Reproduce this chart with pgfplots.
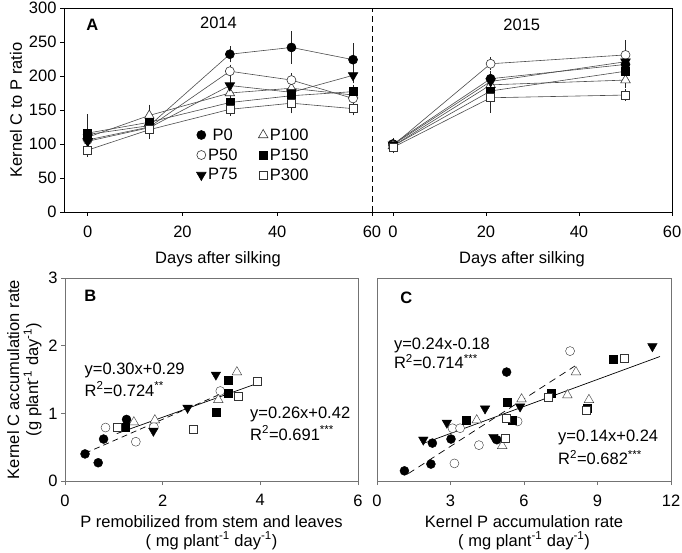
\documentclass[border=0pt]{standalone}
\usepackage{fontspec}
\setmainfont{Liberation Sans}
\usepackage{pgfplots}
\pgfplotsset{compat=1.18}

\tikzset{txt/.style={font=\fontsize{16.5}{16.5}\selectfont}}
\pgfplotsset{
  base/.style={
    scale only axis, anchor=south west,
    tick align=outside, major tick length=4pt,
    xtick pos=left, ytick pos=left,
    tick style={black, line width=0.6pt},
    axis line style={line width=0.8pt},
    tick label style={font=\fontsize{16.5}{16.5}\selectfont},
    xticklabel style={yshift=-6pt},
    label style={font=\fontsize{16.5}{19}\selectfont},
    /pgf/number format/assume math mode=true,
    clip=false,
  },
  ln/.style={draw=black!70, line width=0.6pt,
    error bars/y dir=both, error bars/y explicit,
    error bars/error bar style={draw=black!85, line width=0.5pt, solid},
    error bars/error mark options={draw=black!85, mark size=4pt, line width=0.5pt}},
  m0/.style={mark=*, mark size=4.5pt, mark options={solid, draw=black, fill=black}},
  m50/.style={mark=*, mark size=4.5pt, mark options={solid, draw=black!80, fill=white}},
  m75/.style={mark=triangle*, mark size=5.5pt, mark options={solid, draw=black, fill=black, rotate=180}},
  m100/.style={mark=triangle*, mark size=5.5pt, mark options={solid, draw=black!80, fill=white}},
  m150/.style={mark=square*, mark size=4pt, mark options={solid, draw=black, fill=black}},
  m300/.style={mark=square*, mark size=4pt, mark options={solid, draw=black!80, fill=white}},
}

\begin{document}
\begin{tikzpicture}[x=1pt,y=1pt]
\useasboundingbox (0,0) rectangle (682,552);

% ---- A, 2014
\begin{axis}[base, at={(64pt,340pt)}, width=308pt, height=204pt,
  xmin=-5, xmax=60, ymin=0, ymax=300,
  xtick={0,20,40,60}, ytick={0,50,...,300},
  axis line style={draw=none},
  xlabel={Days after silking}, ylabel={Kernel C to P ratio},
  xlabel style={yshift=-7pt},
  legend columns=2,
  legend style={draw=none, fill=none, at={(0.42,0.43)}, anchor=north west,
    font=\fontsize{16.5}{16.5}\selectfont, row sep=3pt,
    /tikz/every even column/.append style={column sep=19pt}},
  legend image code/.code={\draw[#1, only marks] plot coordinates {(0.25cm,0cm)};},
]
\draw[line width=0.8pt] (rel axis cs:1,0) -- (rel axis cs:0,0) -- (rel axis cs:0,1) -- (rel axis cs:1,1);
\draw[dash pattern=on 6pt off 4pt, line width=0.8pt] (rel axis cs:1,0) -- (rel axis cs:1,1);
\addplot[ln, m0] coordinates {(0,114) +- (0,24) (13,127) +- (0,4) (30,232) +- (0,6) (43,242) +- (0,18) (56,224) +- (0,18)};
\addlegendentry{P0}
\addplot[ln, m100] coordinates {(0,110) +- (0,4) (13,142) +- (0,10) (30,175) +- (0,6) (43,182) +- (0,6) (56,172) +- (0,6)};
\addlegendentry{P100}
\addplot[ln, m50] coordinates {(0,106) +- (0,4) (13,125) +- (0,4) (30,207) +- (0,4) (43,194) +- (0,4) (56,167) +- (0,6)};
\addlegendentry{P50}
\addplot[ln, m150] coordinates {(0,116) +- (0,4) (13,132) +- (0,4) (30,161) +- (0,4) (43,171) +- (0,4) (56,177) +- (0,4)};
\addlegendentry{P150}
\addplot[ln, m75] coordinates {(0,104) +- (0,4) (13,124) +- (0,4) (30,186) +- (0,10) (43,176) +- (0,4) (56,201) +- (0,6)};
\addlegendentry{P75}
\addplot[ln, m300] coordinates {(0,91) +- (0,4) (13,121) +- (0,8) (30,151) +- (0,4) (43,160) +- (0,9) (56,152) +- (0,4)};
\addlegendentry{P300}
\node[font=\bfseries\fontsize{16.5}{16.5}\selectfont] at (axis cs:1,275) {A};
\node[txt] at (axis cs:27.6,278) {2014};
\end{axis}

% ---- A, 2015
\begin{axis}[base, at={(372pt,340pt)}, width=300pt, height=204pt,
  xmin=-4.5, xmax=60, ymin=0, ymax=300,
  xtick={0,20,40,60}, ytick=\empty,
  axis line style={draw=none},
  xlabel={Days after silking},
  xlabel style={yshift=-7pt},
]
\draw[line width=0.8pt] (rel axis cs:0,0) -- (rel axis cs:1,0) -- (rel axis cs:1,1) -- (rel axis cs:0,1);
\addplot[ln, m0] coordinates {(0,100) +- (0,3) (21,196) +- (0,5) (50,217) +- (0,6)};
\addplot[ln, m100] coordinates {(0,97) +- (0,3) (21,187) +- (0,6) (50,194) +- (0,6)};
\addplot[ln, m50] coordinates {(0,98) +- (0,3) (21,218) +- (0,4) (50,231) +- (0,16)};
\addplot[ln, m150] coordinates {(0,97) +- (0,3) (21,178) +- (0,5) (50,207) +- (0,6)};
\addplot[ln, m75] coordinates {(0,99) +- (0,3) (21,192) +- (0,5) (50,221) +- (0,5)};
\addplot[ln, m300] coordinates {(0,95) +- (0,3) (21,168) +- (0,16) (50,172) +- (0,3)};
\node[txt] at (axis cs:27.7,275) {2015};
\end{axis}

% ---- B
\begin{axis}[base, at={(65pt,71pt)}, width=293pt, height=203pt,
  xmin=0, xmax=6, ymin=0, ymax=3,
  xtick={0,2,4,6}, ytick={0,1,2,3},
  axis line style={black!55}, tick style={black!55},
  xlabel={P remobilized from stem and leaves\\( mg plant\textsuperscript{-1} day\textsuperscript{-1})},
  ylabel={Kernel C accumulation rate\\(g plant\textsuperscript{-1} day\textsuperscript{-1})},
  xlabel style={align=center, yshift=-2pt}, ylabel style={align=center},
]
\addplot[black, line width=0.7pt, dash pattern=on 6pt off 4pt] coordinates {(0.41,0.41) (3.2,1.29)};
\addplot[black, line width=0.7pt] coordinates {(1.06,0.70) (3.93,1.44)};
\addplot[only marks, m0] coordinates {(0.41,0.40) (0.68,0.27) (0.79,0.62) (1.26,0.91)};
\addplot[only marks, m50] coordinates {(0.83,0.79) (1.45,0.58) (1.82,0.80) (3.18,1.33)};
\addplot[only marks, m100] coordinates {(1.41,0.87) (1.84,0.90) (3.14,1.20) (3.52,1.61)};
\addplot[only marks, m75] coordinates {(1.81,0.74) (2.51,1.08) (3.09,1.57)};
\addplot[only marks, m150] coordinates {(1.23,0.80) (3.09,1.02) (3.35,1.49) (3.35,1.30)};
\addplot[only marks, m300] coordinates {(1.06,0.80) (2.62,0.76) (3.54,1.25) (3.93,1.48)};
\node[font=\bfseries\fontsize{16.5}{16.5}\selectfont] at (axis cs:0.52,2.73) {B};
\node[txt, anchor=west] at (axis cs:0.33,1.64) {y=0.30x+0.29};
\node[txt, anchor=west] at (axis cs:0.33,1.36) {R\textsuperscript{2}=0.724\textsuperscript{**}};
\node[txt, anchor=west] at (axis cs:3.72,0.99) {y=0.26x+0.42};
\node[txt, anchor=west] at (axis cs:3.72,0.71) {R\textsuperscript{2}=0.691\textsuperscript{***}};
\end{axis}

% ---- C
\begin{axis}[base, at={(377pt,71pt)}, width=294pt, height=203pt,
  xmin=0, xmax=12, ymin=0, ymax=3,
  xtick={0,3,6,9,12}, ytick=\empty,
  axis line style={black!55}, tick style={black!55},
  xlabel={Kernel P accumulation rate\\( mg plant\textsuperscript{-1} day\textsuperscript{-1})},
  xlabel style={align=center, yshift=-2pt},
]
\addplot[black, line width=0.7pt, dash pattern=on 7pt off 5pt] coordinates {(1.28,0.11) (8.08,1.70)};
\addplot[black, line width=0.7pt] coordinates {(1.85,0.55) (11.55,1.84)};
\addplot[only marks, m0] coordinates {(1.12,0.15) (2.20,0.25) (2.26,0.56) (3.02,0.62) (5.29,1.61) (4.89,0.61)};
\addplot[only marks, m50] coordinates {(3.16,0.26) (3.08,0.78) (3.39,0.78) (4.16,0.53) (5.74,0.88) (7.88,1.92)};
\addplot[only marks, m75] coordinates {(1.89,0.61) (2.85,0.86) (4.41,1.07) (4.75,0.65) (5.84,1.10) (11.24,1.99)};
\addplot[only marks, m100] coordinates {(4.07,0.90) (5.11,0.52) (5.90,1.21) (7.77,1.27) (8.12,1.61) (8.65,1.20)};
\addplot[only marks, m150] coordinates {(3.66,0.90) (5.33,1.17) (5.50,0.90) (7.09,1.30) (8.56,1.07) (9.62,1.80)};
\addplot[only marks, m300] coordinates {(5.22,0.63) (5.29,0.93) (6.99,1.24) (8.52,1.05) (10.09,1.81)};
\node[font=\bfseries\fontsize{16.5}{16.5}\selectfont] at (axis cs:1.2,2.7) {C};
\node[txt, anchor=west] at (axis cs:0.55,2.01) {y=0.24x-0.18};
\node[txt, anchor=west] at (axis cs:0.55,1.76) {R\textsuperscript{2}=0.714\textsuperscript{***}};
\node[txt, anchor=west] at (axis cs:7.25,0.64) {y=0.14x+0.24};
\node[txt, anchor=west] at (axis cs:7.25,0.35) {R\textsuperscript{2}=0.682\textsuperscript{***}};
\end{axis}
\end{tikzpicture}
\end{document}
